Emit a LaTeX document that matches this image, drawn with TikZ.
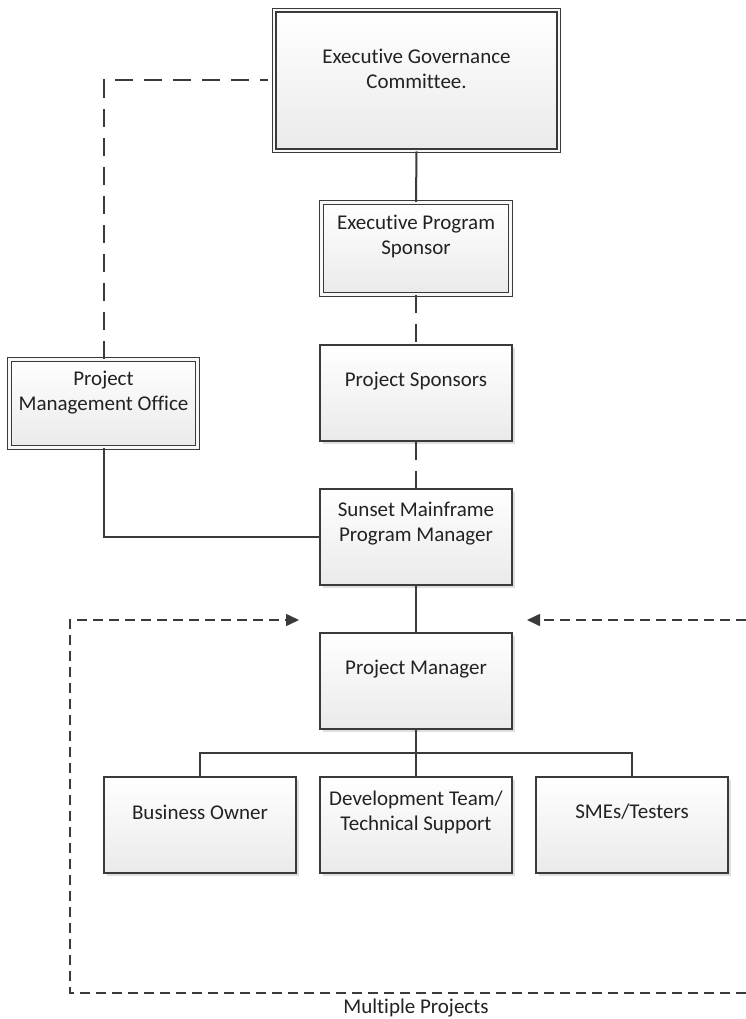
\documentclass[tikz,border=0pt]{standalone}
\usepackage{fontspec}
\setmainfont{Carlito}[Ligatures=NoCommon]
\usetikzlibrary{arrows.meta,shadows}
\definecolor{edge}{HTML}{3A3A3A}
\definecolor{ink}{HTML}{222222}
\definecolor{shadebot}{HTML}{EAEAEA}
\definecolor{gapcol}{HTML}{F8F8F8}

\tikzset{
  box/.style={draw=edge, line width=1.5pt, top color=white, bottom color=shadebot,
    minimum width=192pt, minimum height=96pt, inner sep=0pt,
    drop shadow={shadow xshift=2.5pt, shadow yshift=-2.5pt, fill=black, opacity=0.13}},
  dbox/.style={box, line width=1.2pt, double=gapcol, double distance=2.4pt},
  lbl/.style={text=ink, font=\fontsize{21}{25}\selectfont, align=center, inner sep=0pt},
  link/.style={draw=edge, line width=2pt},
  dlink/.style={link, dash pattern=on 18pt off 11pt},
  loopline/.style={draw=edge, line width=1.6pt, dash pattern=on 10pt off 6pt},
  tip/.style={-{Triangle[length=13pt,width=12pt]}},
}

\begin{document}
\begin{tikzpicture}[x=1pt, y=-1pt]
  \useasboundingbox (0,0) rectangle (746,1019);

  % governance chain
  \node[dbox, minimum width=284.5pt, minimum height=140.5pt] (egc) at (416.5,80.5) {};
  \node[dbox, minimum width=189pt, minimum height=92pt] (eps) at (416,248.5) {};
  \node[dbox, minimum width=188pt, minimum height=88pt] (pmo) at (103.5,403.5) {};
  \node[box] (ps) at (416,393) {};
  \node[box] (smpm) at (416,537) {};
  \node[box] (pm) at (416,681) {};
  \node[box] (bo) at (200,825) {};
  \node[box] (dev) at (416,825) {};
  \node[box] (sme) at (632,825) {};

  % box texts, set a little above centre
  \node[lbl] (egc-t) at ([yshift=12pt]egc.center) {Executive Governance\\Committee.};
  \node[lbl] (eps-t) at ([yshift=12pt]eps.center) {Executive Program\\Sponsor};
  \node[lbl] (pmo-t) at ([yshift=11pt]pmo.center) {Project\\Management Office};
  \node[lbl] (ps-t) at ([yshift=12pt]ps.center) {Project Sponsors};
  \node[lbl] (smpm-t) at ([yshift=13pt]smpm.center) {Sunset Mainframe\\Program Manager};
  \node[lbl] (pm-t) at ([yshift=12pt]pm.center) {Project Manager};
  \node[lbl] (bo-t) at ([yshift=13pt]bo.center) {Business Owner};
  \node[lbl] (dev-t) at ([yshift=13pt]dev.center) {Development Team/\\Technical Support};
  \node[lbl] (sme-t) at ([yshift=13pt]sme.center) {SMEs/Testers};

  % reporting lines
  \draw[link] (egc.south) -- (eps.north);
  \draw[dlink] (eps.south) -- (ps.north);
  \draw[dlink] (ps.south) -- (smpm.north);
  \draw[link] (smpm.south) -- (pm.north);
  \draw[dlink] (pmo.north) |- ([xshift=-6pt]egc.west);
  \draw[link] (pmo.south) |- (smpm.west);

  % team bus
  \coordinate (bus) at (416,753);
  \draw[link] (pm.south) -- (bus);
  \draw[link] (bus) -| (bo.north);
  \draw[link] (bus) -| (sme.north);
  \draw[link] (bus) -- (dev.north);

  % multiple projects loop
  \coordinate (lt) at (70,620);
  \coordinate (lb) at (70,993);
  \coordinate (rb) at (746,993);
  \coordinate (rt) at (746,620);
  \coordinate (al) at (299,620);
  \coordinate (ar) at (527,620);
  \draw[loopline, tip] (rb) -- (lb) -- (lt) -- (al);
  \draw[loopline, tip] (rt) -- (ar);
  \node[lbl] (multi) at (416,1008) {Multiple Projects};
\end{tikzpicture}
\end{document}
